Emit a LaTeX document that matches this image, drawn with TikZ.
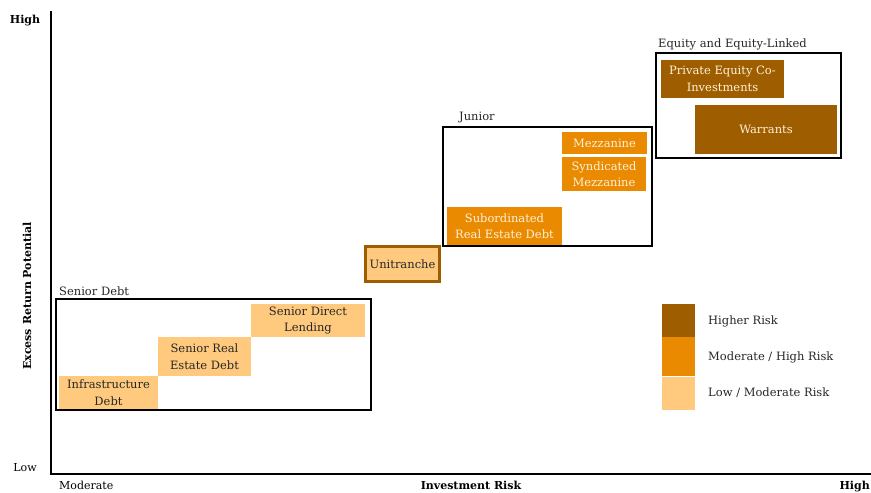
\documentclass[tikz,border=0pt]{standalone}
\usepackage{fontspec}
\setmainfont{DejaVu Serif}
\usetikzlibrary{positioning}

\definecolor{lowrisk}{HTML}{FFCA7E}
\definecolor{midrisk}{HTML}{EA8A00}
\definecolor{highrisk}{HTML}{9E5E00}
\definecolor{cream}{HTML}{FFF1DA}

\tikzset{
  cell/.style={rectangle, inner sep=0pt, align=center,
    font=\fontsize{11.5}{16.5}\selectfont},
  lowcell/.style={cell, fill=lowrisk, text=black!85},
  midcell/.style={cell, fill=midrisk, text=cream},
  highcell/.style={cell, fill=highrisk, text=cream},
  group/.style={draw=black, line width=2pt},
  grouplabel/.style={anchor=base west, inner sep=0pt,
    font=\fontsize{11.5}{13}\selectfont, text=black!85},
  axislabel/.style={inner sep=0pt, font=\fontsize{11}{13}\selectfont\bfseries},
  keytext/.style={anchor=west, inner sep=0pt,
    font=\fontsize{11.5}{13}\selectfont, text=black!85}
}

\begin{document}
\begin{tikzpicture}[x=1pt,y=-1pt]
        \useasboundingbox (0,0) rectangle (871,493);
        %axes
        \draw[line width=1.5pt] (51,11) -- (51,474) -- (871,474);
        \node[axislabel] (yhigh) at (25,21) {High};
        \node[axislabel, font=\fontsize{11}{13}\selectfont] (ylow) at (25,468) {Low};
        \node[axislabel, rotate=90] (ytitle) at (27,296) {Excess Return Potential};
        \node[axislabel, font=\fontsize{11}{13}\selectfont, anchor=base west] (xlow) at (59,489.5) {Moderate};
        \node[axislabel, anchor=base] (xtitle) at (471,489.5) {Investment Risk};
        \node[axislabel, anchor=base east] (xhigh) at (870,489.5) {High};

        %senior debt
        \draw[group] (56,299) rectangle (371,410);
        \node[grouplabel] (seniorlbl) at (59,295) {Senior Debt};
        \node[lowcell, minimum width=99, minimum height=33] (infra) at (108.5,392.5) {Infrastructure\\Debt};
        \node[lowcell, minimum width=93, minimum height=39] (sred) at (204.5,356.5) {Senior Real\\Estate Debt};
        \node[lowcell, minimum width=114, minimum height=33] (sdl) at (308,320.5) {Senior Direct\\Lending};

        \node[lowcell, draw=highrisk, line width=3pt, minimum width=74, minimum height=35] (unit) at (402.5,264) {Unitranche};

        %junior
        \draw[group] (443,127) rectangle (652,246);
        \node[grouplabel] (juniorlbl) at (459,120) {Junior};
        \node[midcell, minimum width=85, minimum height=22] (mezz) at (604.5,143) {Mezzanine};
        \node[midcell, minimum width=84, minimum height=34] (smezz) at (604,174) {Syndicated\\Mezzanine};
        \node[midcell, minimum width=115, minimum height=38] (subred) at (504.5,226) {Subordinated\\Real Estate Debt};

        %equity
        \draw[group] (656,53) rectangle (841,158);
        \node[grouplabel] (equitylbl) at (658,47) {Equity and Equity-Linked};
        \node[highcell, minimum width=123, minimum height=38] (peci) at (722.5,79) {Private Equity Co-\\Investments};
        \node[highcell, minimum width=142, minimum height=49] (warr) at (766,129.5) {Warrants};

        %legend
        \node[fill=highrisk, minimum width=33, minimum height=33, inner sep=0pt] (keyhigh) at (678.5,320.5) {};
        \node[fill=midrisk, minimum width=33, minimum height=39, inner sep=0pt, below=0pt of keyhigh] (keymid) {};
        \node[fill=lowrisk, minimum width=33, minimum height=33, inner sep=0pt, below=0pt of keymid] (keylow) {};
        \node[keytext] (keyhightxt) at (708,321) {Higher Risk};
        \node[keytext] (keymidtxt) at (708,357) {Moderate / High Risk};
        \node[keytext] (keylowtxt) at (708,393) {Low / Moderate Risk};
\end{tikzpicture}
\end{document}
